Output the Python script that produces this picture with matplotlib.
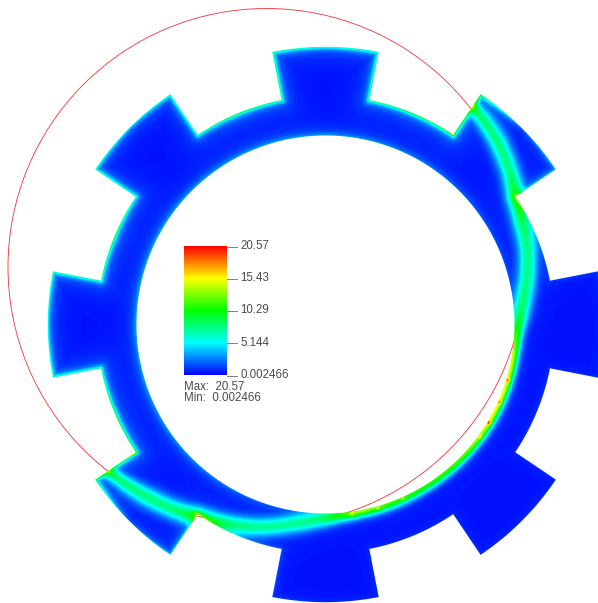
import numpy as np
import matplotlib
matplotlib.use("Agg")
import matplotlib.pyplot as plt
from matplotlib.colors import LinearSegmentedColormap
from matplotlib.patches import Circle
from matplotlib.path import Path

plt.rcParams['font.family'] = ['Liberation Sans', 'DejaVu Sans']

# ---- geometry (pixels / degrees)
center_x, center_y = 325.5, 324.5
r_inner, r_root, r_tip = 189.0, 228.7, 277.7
tooth_angles = [0, 45, 90, 135, 180, 225, 270, 315]
tooth_half = 11.05
red_circle = (266.5, 267.0, 258.5)

# ---- colour scale
v_min, v_max = 0.002466, 20.57
tick_values = [20.57, 15.43, 10.29, 5.144, 0.002466]
tick_labels = ["20.57", "15.43", "10.29", "5.144", "0.002466"]
max_label = "Max:  20.57"
min_label = "Min:  0.002466"

# ---- contact band along the ring: angle, radius, peak value, half width
band_angle = [57, 52, 46, 40, 34.3, 28, 21, 13.3, 9.8, 4, -1.6, -5, -10, -20, -30, -40, -50, -60, -70, -80, -85.6, -92, -99, -108, -116, -123.7, -130, -136, -141, -147]
band_radius = [264, 258, 250, 240, 229.5, 222, 216, 207, 202.5, 196, 191.5, 190.5, 190, 190, 190, 190, 190, 190, 190, 190, 191, 195, 201.5, 212.8, 222, 231, 240, 248, 255, 264]
band_peak = [6.5, 7.5, 7.5, 7.5, 9, 8, 7.3, 7.3, 7.5, 8, 10, 11.5, 13.5, 14.5, 14.5, 12, 10.5, 10, 10.5, 12.5, 10, 7.5, 7, 7, 7.5, 9, 7.5, 7.5, 7.5, 6.5]
band_width = [6, 8.5, 10, 10, 9.5, 9.5, 9.5, 9.5, 9.5, 9, 7, 6, 5.5, 5.5, 5.5, 5.5, 5.5, 5.5, 6, 6, 7, 8.5, 9.5, 9.5, 9.5, 9.5, 10, 10, 8.5, 6]

# ---- stress along the outer boundary, by angle
rim_angle = [-180, -157.5, -146, -135, -123, -112.5, -90, -67.5, -45, -22.5, 0, 22.5, 34, 45, 56, 67.5, 90, 112.5, 135, 157.5, 180]
rim_value = [6, 10.5, 10, 2, 5, 2, 0.6, 0.8, 0.5, 0.8, 0.5, 1.5, 4.5, 2, 11, 10.5, 7.5, 10.5, 5.5, 10.5, 6]

# ---- stress along the inner boundary, by angle
inner_angle = [-180, -135, -110, -90, -45, 0, 45, 90, 135, 180]
inner_value = [3.4, 2.8, 1.6, 0.8, 0.6, 0.6, 1.9, 3.1, 3.2, 3.4]

# ---- stress peaks at tooth roots: x, y, value, radius
hot_x = [453, 517, 198, 133, 134, 453, 196, 519]
hot_y = [134, 198, 515, 454, 452, 131, 513, 201]
hot_value = [17, 20, 20, 18, 13, 12, 13, 13]
hot_radius = [2.2, 2.2, 2.4, 2.2, 4, 4, 4, 4]

# ---- small hot spots along the contact arc
spot_angle = [-17, -24, -31, -36, -66, -74, -82]
spot_value = [4, 3, 5, 3, 3, 3, 4]

base_value = 0.35

rainbow = LinearSegmentedColormap.from_list(
    "rainbow_blue_red", ["#0000ff", "#00ffff", "#00ff00", "#ffff00", "#ff0000"], N=256)


def gear_outline():
    pts = []
    for a in tooth_angles:
        lo, hi = a - tooth_half, a + tooth_half
        t = np.radians(np.linspace(lo, hi, 30))
        pts.append(np.c_[r_root * np.cos(np.radians(lo)), r_root * np.sin(np.radians(lo))])
        pts.append(np.c_[r_tip * np.cos(t), r_tip * np.sin(t)])
        pts.append(np.c_[r_root * np.cos(np.radians(hi)), r_root * np.sin(np.radians(hi))])
        t2 = np.radians(np.linspace(hi, a + 45 - tooth_half, 30))[1:-1]
        pts.append(np.c_[r_root * np.cos(t2), r_root * np.sin(t2)])
    xy = np.vstack(pts)
    return np.c_[center_x + xy[:, 0], center_y - xy[:, 1]]


def densify(poly, step=1.5):
    out = []
    closed = np.vstack([poly, poly[:1]])
    for a, b in zip(closed[:-1], closed[1:]):
        n = max(1, int(np.hypot(*(b - a)) / step))
        out.append(a + (b - a) * np.arange(n)[:, None] / n)
    return np.vstack(out)


outline = gear_outline()
samples = densify(outline)
sample_theta = np.degrees(np.arctan2(center_y - samples[:, 1], samples[:, 0] - center_x))
sample_rim = np.interp(sample_theta, rim_angle, rim_value)

W, H = 598, 603
px, py = np.meshgrid(np.arange(W) + 0.5, np.arange(H) + 0.5)
dx, dy = px - center_x, center_y - py
rad = np.hypot(dx, dy)
theta = np.degrees(np.arctan2(dy, dx))

mask = (rad > r_inner - 2) & (rad < r_tip + 2)
qx, qy = px[mask], py[mask]
qr, qt = rad[mask], theta[mask]
val = np.full(qx.shape, base_value, float)

# outer boundary: thin rim plus wide halo
rim_d = np.empty(qx.shape)
rim_v = np.empty(qx.shape)
for i in range(0, qx.size, 8000):
    d2 = (qx[i:i + 8000, None] - samples[:, 0]) ** 2 + (qy[i:i + 8000, None] - samples[:, 1]) ** 2
    j = d2.argmin(axis=1)
    rim_d[i:i + 8000] = np.sqrt(d2[np.arange(j.size), j])
    rim_v[i:i + 8000] = sample_rim[j]
val += rim_v * (0.75 * np.exp(-rim_d / 2.2) + 0.22 * np.exp(-rim_d / 10.0))

# inner boundary
d_in = np.maximum(qr - r_inner, 0)
val += np.interp(qt, inner_angle, inner_value) * (0.72 * np.exp(-d_in / 3.5) + 0.28 * np.exp(-d_in / 11.0))

# contact band
ang = np.where(qt > 90, qt - 360, qt)
ang = np.where(ang < -147, np.nan, ang)
order = np.argsort(band_angle)
b_a = np.array(band_angle, float)[order]
b_r = np.array(band_radius, float)[order]
b_p = np.array(band_peak, float)[order]
b_w = np.array(band_width, float)[order]
bc = np.interp(ang, b_a, b_r)
bp = np.interp(ang, b_a, b_p)
bw = np.interp(ang, b_a, b_w)
fade = np.clip((58 - ang) / 2.0, 0, 1) * np.clip((ang + 148) / 2.0, 0, 1)
dr = (qr - bc) / bw
band = bp * (0.82 * np.exp(-dr ** 2) + 0.18 * np.exp(-np.abs(dr) / 1.2))
band = np.nan_to_num(band * fade)
val = np.maximum(val, 0) + band * (1 - 0.25 * (val > band))

# little speckles on the hot arc
for a, v in zip(spot_angle, spot_value):
    sx = center_x + 191 * np.cos(np.radians(a))
    sy = center_y - 191 * np.sin(np.radians(a))
    val += v * np.exp(-((qx - sx) ** 2 + (qy - sy) ** 2) / 2.0 ** 2)

# tooth root peaks
for x, y, v, s in zip(hot_x, hot_y, hot_value, hot_radius):
    g = v * np.exp(-((qx - x) ** 2 + (qy - y) ** 2) / s ** 2)
    val = np.maximum(val, g)

field = np.full(px.shape, np.nan)
field[mask] = np.clip(val, v_min, v_max)

fig = plt.figure(figsize=(W / 100, H / 100), dpi=100, facecolor="white")
ax = fig.add_axes([0, 0, 1, 1])
ax.set_xlim(0, W)
ax.set_ylim(H, 0)
ax.axis("off")

ax.add_patch(Circle(red_circle[:2], red_circle[2], fill=False, ec="#f5303c", lw=0.6, zorder=1))

inner_t = np.radians(np.linspace(360, 0, 361))
hole = np.c_[center_x + r_inner * np.cos(inner_t), center_y - r_inner * np.sin(inner_t)]
verts = np.vstack([outline, outline[:1], hole, hole[:1]])
codes = ([Path.MOVETO] + [Path.LINETO] * (len(outline) - 1) + [Path.CLOSEPOLY]
         + [Path.MOVETO] + [Path.LINETO] * (len(hole) - 1) + [Path.CLOSEPOLY])
gear_path = Path(verts, codes)
im = ax.imshow(field, extent=(0, W, H, 0), cmap=rainbow, vmin=v_min, vmax=v_max,
               interpolation="bilinear", zorder=2, aspect="auto")
im.set_clip_path(gear_path, ax.transData)

# colour bar
bar_left, bar_right, bar_top, bar_bottom = 184, 227, 246.5, 375.5
grad = np.linspace(v_max, v_min, 256)[:, None]
ax.imshow(grad, extent=(bar_left, bar_right, bar_bottom, bar_top), cmap=rainbow,
          vmin=v_min, vmax=v_max, aspect="auto", zorder=3, interpolation="bilinear")
ax.set_xlim(0, W)
ax.set_ylim(H, 0)
for v, lab in zip(tick_values, tick_labels):
    y = bar_top + (v_max - v) / (v_max - v_min) * (bar_bottom - bar_top)
    ax.plot([bar_right, bar_right + 10], [y, y], color="#808080", lw=0.7, zorder=3)
    ax.text(bar_right + 13.5, y - 0.5, lab, fontsize=8.3, color="#4a4a4a", va="center", ha="left", zorder=4)
ax.text(bar_left, 386.5, max_label, fontsize=8.3, color="#4a4a4a", va="center", ha="left", zorder=4)
ax.text(bar_left, 398, min_label, fontsize=8.3, color="#4a4a4a", va="center", ha="left", zorder=4)

fig.savefig("out.png", dpi=100, facecolor="white")
